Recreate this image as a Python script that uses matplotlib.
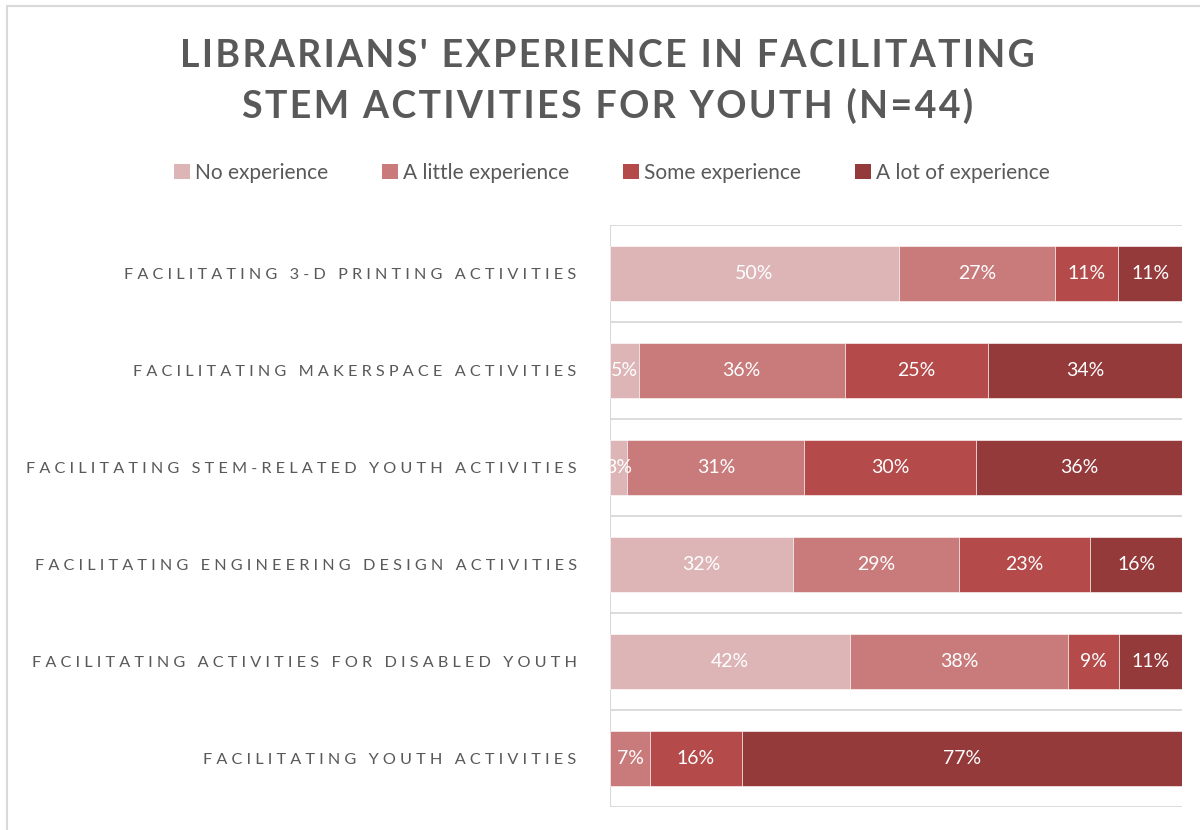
import numpy as np
import matplotlib.pyplot as plt
from matplotlib.patches import Rectangle, Patch

plt.rcParams['font.family'] = ['Lato', 'DejaVu Sans']

# survey rows, top to bottom
activities = [
    "Facilitating 3-D printing activities",
    "Facilitating makerspace activities",
    "Facilitating STEM-related youth activities",
    "Facilitating engineering design activities",
    "Facilitating activities for disabled youth",
    "Facilitating youth activities",
]
levels = ["No experience", "A little experience", "Some experience", "A lot of experience"]

no_exp = [50, 5, 3, 32, 42, 0]
little_exp = [27, 36, 31, 29, 38, 7]
some_exp = [11, 25, 30, 23, 9, 16]
lot_exp = [11, 34, 36, 16, 11, 77]

colors = ["#ddb5b6", "#c97b7b", "#b44a4a", "#953a3b"]
grey = "#595959"


def spaced(s, gap="\u2009"):
    # fake letter-spacing with thin spaces
    return gap.join(s)


fig = plt.figure(figsize=(12, 8.3), dpi=100)
fig.patches.append(Rectangle((7 / 1200, -0.01), 1.0, 1 - 6 / 830 + 0.01,
                             transform=fig.transFigure, fill=False,
                             edgecolor="#d9d9d9", linewidth=1.5))

ax = fig.add_axes([610 / 1200, 23 / 830, 572 / 1200, 582 / 830])

series = np.array([no_exp, little_exp, some_exp, lot_exp], dtype=float)
# 100% stacked: each row scaled to its total
shares = series / series.sum(axis=0) * 100

y = np.arange(len(activities))
left = np.zeros(len(activities))
for vals, widths, col in zip(series, shares, colors):
    bars = ax.barh(y, widths, left=left, height=0.565, color=col,
                   edgecolor="white", linewidth=0.4, zorder=2)
    for b, v in zip(bars, vals):
        if v > 0:
            ax.text(b.get_x() + b.get_width() / 2, b.get_y() + b.get_height() / 2,
                    f"{v:.0f}%", ha="center", va="center", color="white",
                    fontsize=14, zorder=3)
    left += widths

ax.set_xlim(0, 100)
ax.set_ylim(len(activities) - 0.5, -0.5)
for yy in np.arange(-0.5, len(activities), 1.0):
    ax.axhline(yy, color="#d9d9d9", linewidth=1.3, zorder=1)
ax.axvline(0, color="#d9d9d9", linewidth=1.5, zorder=1)
for s in ax.spines.values():
    s.set_visible(False)
ax.set_xticks([])
ax.set_yticks(y)
ax.set_yticklabels([spaced(a.upper(), " ") for a in activities],
                   fontsize=11.7, color=grey)
ax.tick_params(axis="y", length=0, pad=24)

fig.text(0.506, 1 - 56 / 830, spaced("LIBRARIANS' EXPERIENCE IN FACILITATING", "\u200a"),
         ha="center", va="center", fontsize=27, fontweight="bold", color=grey)
fig.text(0.506, 1 - 106 / 830, spaced("STEM ACTIVITIES FOR YOUTH (N=44)", "\u200a"),
         ha="center", va="center", fontsize=27, fontweight="bold", color=grey)

handles = [Patch(facecolor=c, edgecolor="none") for c in colors]
fig.legend(handles, levels, loc="center", bbox_to_anchor=(0.51, 1 - 173 / 830),
           ncol=4, frameon=False, fontsize=15, labelcolor=grey,
           handlelength=0.75, handleheight=0.75, handletextpad=0.25,
           columnspacing=2.6)

fig.savefig("out.png", dpi=100)
